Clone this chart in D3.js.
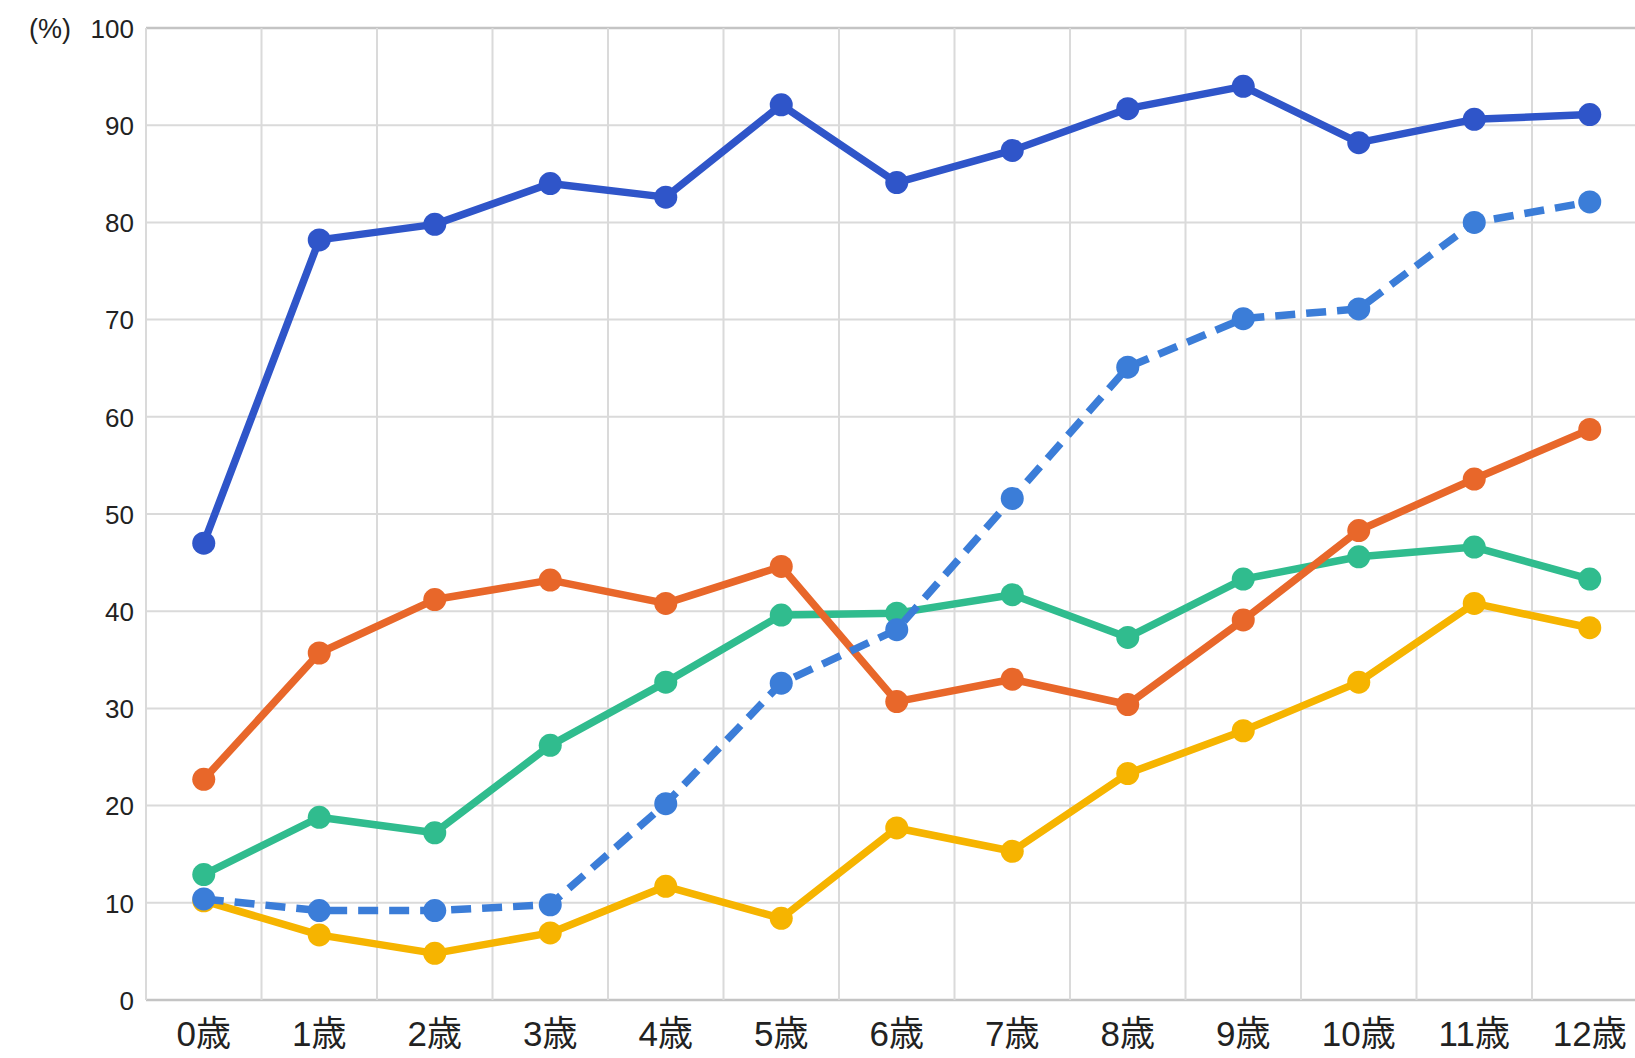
<!DOCTYPE html>
<html>
<head>
<meta charset="utf-8">
<script src="https://cdn.jsdelivr.net/npm/d3@7"></script>
<style>
  html, body { margin: 0; padding: 0; background: #fff; overflow: hidden; }
  svg { display: block; }
  text { font-family: "Liberation Sans", "Noto Sans CJK JP", sans-serif; fill: #222; }
</style>
</head>
<body>
<svg width="1635" height="1058"></svg>
<script>
const ages = ["0歳", "1歳", "2歳", "3歳", "4歳", "5歳", "6歳", "7歳", "8歳", "9歳", "10歳", "11歳", "12歳"];
const yTicks = [0, 10, 20, 30, 40, 50, 60, 70, 80, 90, 100];

const darkBlue = [47.0, 78.2, 79.8, 84.0, 82.6, 92.1, 84.1, 87.4, 91.7, 94.0, 88.2, 90.6, 91.1];
const lightBlue = [10.4, 9.2, 9.2, 9.8, 20.2, 32.6, 38.1, 51.6, 65.1, 70.1, 71.1, 80.0, 82.1];
const orange = [22.7, 35.7, 41.2, 43.2, 40.8, 44.6, 30.7, 33.0, 30.4, 39.1, 48.3, 53.6, 58.7];
const green = [12.9, 18.8, 17.2, 26.2, 32.7, 39.6, 39.8, 41.7, 37.3, 43.3, 45.6, 46.6, 43.3];
const yellow = [10.2, 6.7, 4.8, 6.9, 11.7, 8.4, 17.7, 15.3, 23.3, 27.7, 32.7, 40.8, 38.3];

const series = [
	{values: yellow, color: "#f6b400", dash: null},
	{values: green, color: "#30bc8e", dash: null},
	{values: orange, color: "#e8672a", dash: null},
	{values: lightBlue, color: "#3b7dd8", dash: "20,11"},
	{values: darkBlue, color: "#2f55c9", dash: null}
];

const svg = d3.select("svg");
const plotLeft = 146, step = 115.5;
const plotRight = plotLeft + step * ages.length;
const plotTop = 28, plotBottom = 1000;

const x = d3.scaleBand().domain(ages).range([plotLeft, plotRight]);
const y = d3.scaleLinear().domain([0, 100]).range([plotBottom, plotTop]);

const grid = svg.append("g");

// horizontal grid
grid.selectAll("line.h")
	.data(yTicks)
	.enter()
	.append("line")
		.attr("x1", plotLeft)
		.attr("x2", 1635)
		.attr("y1", d => y(d))
		.attr("y2", d => y(d))
		.attr("stroke", d => (d === 0 || d === 100) ? "#c4c4c4" : "#dadada")
		.attr("stroke-width", d => (d === 0 || d === 100) ? 2.5 : 2)

// vertical grid at band edges
grid.selectAll("line.v")
	.data(d3.range(ages.length + 1))
	.enter()
	.append("line")
		.attr("x1", i => plotLeft + i * x.step())
		.attr("x2", i => plotLeft + i * x.step())
		.attr("y1", plotTop)
		.attr("y2", plotBottom)
		.attr("stroke", "#dadada")
		.attr("stroke-width", 2)

// y axis labels
const yAxis = svg.append("g")
	.attr("transform", `translate(${plotLeft - 12},0)`)
	.call(d3.axisLeft(y).tickValues(yTicks).tickSize(0).tickPadding(0));
yAxis.select(".domain").remove();
yAxis.selectAll("text")
	.attr("font-size", "26px")
	.attr("fill", "#222")
	.attr("dy", "0.36em");

svg.append("text")
	.attr("x", 71)
	.attr("y", y(100))
	.attr("dy", "0.36em")
	.attr("text-anchor", "end")
	.attr("font-size", "27px")
	.text("(%)");

// x axis labels
const xAxis = svg.append("g")
	.attr("transform", `translate(0,${plotBottom})`)
	.call(d3.axisBottom(x).tickSize(0).tickPadding(0));
xAxis.select(".domain").remove();
xAxis.selectAll("text")
	.attr("font-size", "35px")
	.attr("fill", "#222")
	.attr("y", 46)
	.attr("dy", 0);

const cx = (d, i) => x(ages[i]) + x.bandwidth() / 2;
const line = d3.line()
	.x(cx)
	.y(d => y(d));

const lines = svg.append("g");
series.forEach(s => {
	lines.append("path")
		.datum(s.values)
		.attr("d", line)
		.attr("fill", "none")
		.attr("stroke", s.color)
		.attr("stroke-width", 7.5)
		.attr("stroke-linejoin", "round")
		.attr("stroke-dasharray", s.dash);

	lines.append("g")
		.selectAll("circle")
		.data(s.values)
		.enter()
		.append("circle")
			.attr("cx", cx)
			.attr("cy", d => y(d))
			.attr("r", 11.5)
			.attr("fill", s.color)
});
</script>
</body>
</html>
